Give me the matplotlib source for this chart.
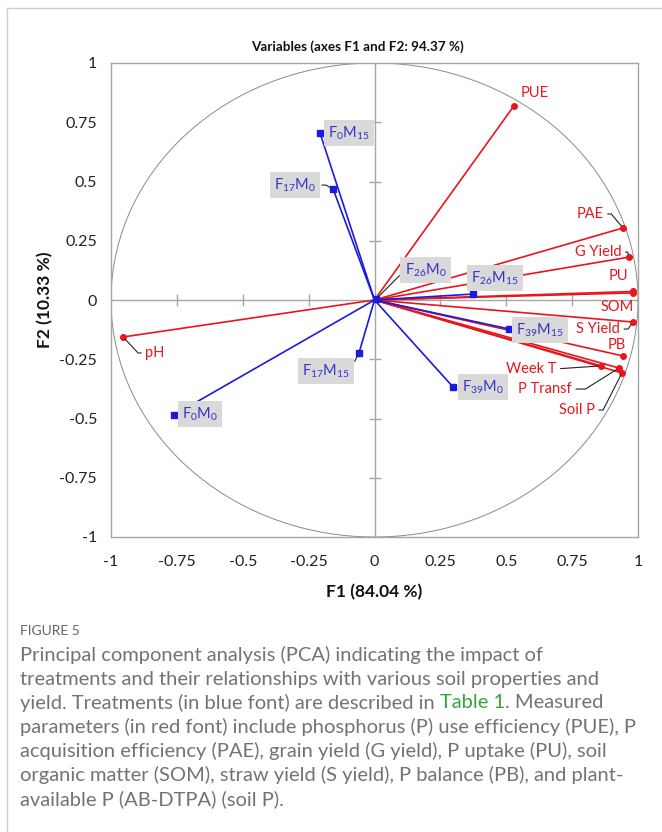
import numpy as np
import matplotlib
matplotlib.use("Agg")
import matplotlib.pyplot as plt
from matplotlib.lines import Line2D

plt.rcParams['font.family'] = ['Lato', 'DejaVu Sans']
plt.rcParams['mathtext.fontset'] = 'custom'
plt.rcParams['mathtext.rm'] = 'Lato'

# Measured parameters (red): loadings on F1 and F2
var_names = ['PUE', 'PAE', 'G Yield', 'PU', 'SOM', 'S Yield', 'PB',
             'Week T', 'P Transf', 'Soil P', 'pH']
var_f1 = [0.529, 0.943, 0.966, 0.981, 0.981, 0.981, 0.943, 0.860, 0.928, 0.939, -0.954]
var_f2 = [0.819, 0.304, 0.181, 0.036, 0.030, -0.093, -0.236, -0.278, -0.287, -0.308, -0.156]

# Treatments (blue)
trt_names = [r'$\mathregular{F_{0}M_{15}}$', r'$\mathregular{F_{17}M_{0}}$',
             r'$\mathregular{F_{26}M_{0}}$', r'$\mathregular{F_{26}M_{15}}$',
             r'$\mathregular{F_{39}M_{15}}$', r'$\mathregular{F_{39}M_{0}}$',
             r'$\mathregular{F_{17}M_{15}}$', r'$\mathregular{F_{0}M_{0}}$']
trt_f1 = [-0.207, -0.157, 0.005, 0.374, 0.510, 0.298, -0.059, -0.761]
trt_f2 = [0.705, 0.468, 0.003, 0.025, -0.122, -0.367, -0.224, -0.485]

tick_vals = [-1, -0.75, -0.5, -0.25, 0, 0.25, 0.5, 0.75, 1]
tick_labels = ['-1', '-0.75', '-0.5', '-0.25', '0', '0.25', '0.5', '0.75', '1']

RED = '#e8161c'
BLUE = '#1a1ae0'
BLUE_TXT = '#3333cc'
GRID = '#a6a6a6'

# label placement: offset of label centre from the point (pixels, y up),
# leader line: None or (side, angleB)
var_layout = {
    'PUE': ((21, 13), None),
    'PAE': ((-33, 14), ('right', -50)),
    'G Yield': ((-31, 5), ('right', -75)),
    'PU': ((-15, 15), None),
    'SOM': ((-16, -14), None),
    'S Yield': ((-35, -7), ('right', 55)),
    'PB': ((-6, 11), None),
    'Week T': ((-70, -3), ('right', None)),
    'P Transf': ((-74, -21), ('right', 32)),
    'Soil P': ((-45, -37), ('right', 63)),
    'pH': ((32, -16), ('left', 133)),
}
trt_layout = [
    ((29, 0), None),
    ((-38, 4), ('right', -29)),
    ((50, 29), ('left', None)),
    ((22, 16), None),
    ((31, -1), None),
    ((30, 0), None),
    ((-33, -18), ('right', None)),
    ((26, 1), ('left', None)),
]

W, H = 662, 832
fig = plt.figure(figsize=(W / 100, H / 100), dpi=100)
fig.patch.set_facecolor('white')

# outer page frame
fig.add_artist(Line2D([7 / W, 7 / W], [0, 1 - 8 / H], color='#cfcfcf', lw=1))
fig.add_artist(Line2D([7 / W, 1], [1 - 8 / H, 1 - 8 / H], color='#cfcfcf', lw=1))

ax = fig.add_axes([111 / W, 1 - 537 / H, 527 / W, 474 / H])
ax.set_xlim(-1, 1)
ax.set_ylim(-1, 1)
for s in ax.spines.values():
    s.set_color(GRID)
    s.set_linewidth(1)
ax.set_xticks(tick_vals)
ax.set_xticklabels(tick_labels)
ax.set_yticks(tick_vals)
ax.set_yticklabels(tick_labels)
ax.tick_params(length=0, labelsize=11.5, colors='#222222')
ax.tick_params(axis='x', pad=13)
ax.tick_params(axis='y', pad=10)

# central axes with cross ticks
ax.axhline(0, color=GRID, lw=1, zorder=1)
ax.axvline(0, color=GRID, lw=1, zorder=1)
inner = [t for t in tick_vals if t not in (-1, 0, 1)]
ax.plot(inner, [0] * len(inner), ls='none', marker='|', ms=9, mew=1, color=GRID, zorder=1)
ax.plot([0] * len(inner), inner, ls='none', marker='_', ms=9, mew=1, color=GRID, zorder=1)

# correlation circle
th = np.linspace(0, 2 * np.pi, 500)
ax.plot(np.cos(th), np.sin(th), color='#8a8a8a', lw=0.7, zorder=1)

px2pt = 0.72


def place(x, y, label, offset, leader, color, box):
    dx, dy = offset
    kw = dict(xy=(x, y), xytext=(dx * px2pt, dy * px2pt), textcoords='offset points',
              ha='center', va='center', color=color, zorder=5)
    if box:
        kw['fontsize'] = 10.5
        kw['bbox'] = dict(boxstyle='square,pad=0.3', fc='#d9d9d9', ec='none')
    else:
        kw['fontsize'] = 10.5
    if leader is not None:
        side, angb = leader
        rel = (1, 0.5) if side == 'right' else (0, 0.5)
        if angb is None:
            cs = 'arc3'
        else:
            cs = 'angle,angleA=%d,angleB=%d,rad=0' % (0 if side == 'right' else 180, angb)
        kw['arrowprops'] = dict(arrowstyle='-', color='#222222', lw=0.8,
                                shrinkA=1, shrinkB=2, relpos=rel, connectionstyle=cs)
    ax.annotate(label, **kw)


for name, x, y in zip(var_names, var_f1, var_f2):
    ax.plot([0, x], [0, y], color=RED, lw=1.2, zorder=3)
    ax.plot([x], [y], 'o', color=RED, ms=4, zorder=4)
    off, lead = var_layout[name]
    place(x, y, name, off, lead, RED, False)

for name, x, y, (off, lead) in zip(trt_names, trt_f1, trt_f2, trt_layout):
    ax.plot([0, x], [0, y], color=BLUE, lw=1.2, zorder=3)
    ax.plot([x], [y], 's', color=BLUE, ms=4, zorder=4)
    place(x, y, name, off, lead, BLUE_TXT, True)

fig.text(357 / W, 1 - 47 / H, 'Variables (axes F1 and F2: 94.37 %)', ha='center',
         va='center', fontsize=9.7, fontweight='bold', color='#111111')
fig.text(374.5 / W, 1 - 592 / H, 'F1 (84.04 %)', ha='center', va='center',
         fontsize=12.5, fontweight='bold', color='#111111')
fig.text(45 / W, 1 - 300 / H, 'F2 (10.33 %)', ha='center', va='center', rotation=90,
         fontsize=12.5, fontweight='bold', color='#111111')

# caption
CAP = '#737373'
fig.text(20 / W, 1 - 631 / H, 'FIGURE 5', ha='left', va='center', fontsize=10,
         color='#666666')
cap_lines = [
    'Principal component analysis (PCA) indicating the impact of',
    'treatments and their relationships with various soil properties and',
    None,
    'parameters (in red font) include phosphorus (P) use efficiency (PUE), P',
    'acquisition efficiency (PAE), grain yield (G yield), P uptake (PU), soil',
    'organic matter (SOM), straw yield (S yield), P balance (PB), and plant-',
    'available P (AB-DTPA) (soil P).',
]
renderer = fig.canvas.get_renderer()
# size the caption so the widest line spans the text column
probe = fig.text(0, 0, cap_lines[3], fontsize=10)
w10 = probe.get_window_extent(renderer).width
probe.remove()
cap_fs = 10 * 618 / w10
for i, line in enumerate(cap_lines):
    yy = 1 - (655 + 24 * i) / H
    if line is not None:
        fig.text(20 / W, yy, line, ha='left', va='center', fontsize=cap_fs, color=CAP)
    else:
        x0 = 20 / W
        for part, col in [('yield. Treatments (in blue font) are described in ', CAP),
                          ('Table 1', '#3aa43a'), ('. Measured', CAP)]:
            t = fig.text(x0, yy, part, ha='left', va='center', fontsize=cap_fs, color=col)
            bb = t.get_window_extent(renderer)
            x0 = bb.x1 / W

fig.savefig('out.png', dpi=100)
